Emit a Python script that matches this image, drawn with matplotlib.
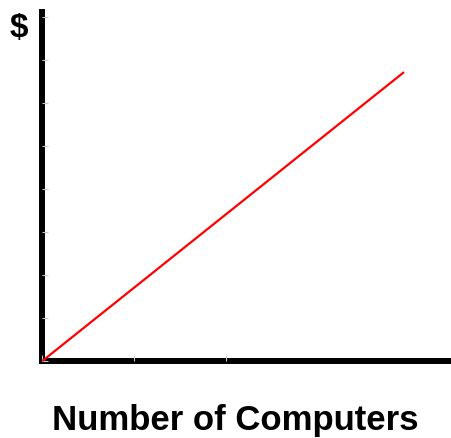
import matplotlib.pyplot as plt

# line endpoints
computers = [0, 3.93]
cost = [0, 6.72]
x_ticks = [0, 1, 2]
y_ticks = [0, 1, 2, 3, 4, 5, 6, 7, 8]

plt.rcParams['font.family'] = ['Liberation Sans', 'DejaVu Sans']

W, H = 451, 438
fig = plt.figure(figsize=(W / 100, H / 100), dpi=100)
left, bottom, top = 42.3, 361, 12.3
ax = fig.add_axes([left / W, (H - bottom) / H, 1 - left / W, (bottom - top) / H])

ax.plot(computers, cost, color='#ff0000', linewidth=1.6, solid_capstyle='butt', clip_on=False, zorder=3)

ax.set_xlim(0, 4.44)
ax.set_ylim(0, 8.11)
ax.set_xticks(x_ticks)
ax.set_yticks(y_ticks)
ax.set_xticklabels([])
ax.set_yticklabels([])
ax.tick_params(direction='in', length=4, width=0.8, color='#c8c8c8')

for side in ['top', 'right']:
    ax.spines[side].set_visible(False)
for side in ['left', 'bottom']:
    ax.spines[side].set_linewidth(4.3)
    ax.spines[side].set_color('black')
    ax.spines[side].set_zorder(1)

fig.text(18.5 / W, 1 - 37 / H, '$', fontsize=24, fontweight='bold', ha='center', va='baseline')
fig.text(235 / W, 1 - 430 / H, 'Number of Computers', fontsize=25, fontweight='bold',
         ha='center', va='baseline')

fig.savefig('out.png', dpi=100)
